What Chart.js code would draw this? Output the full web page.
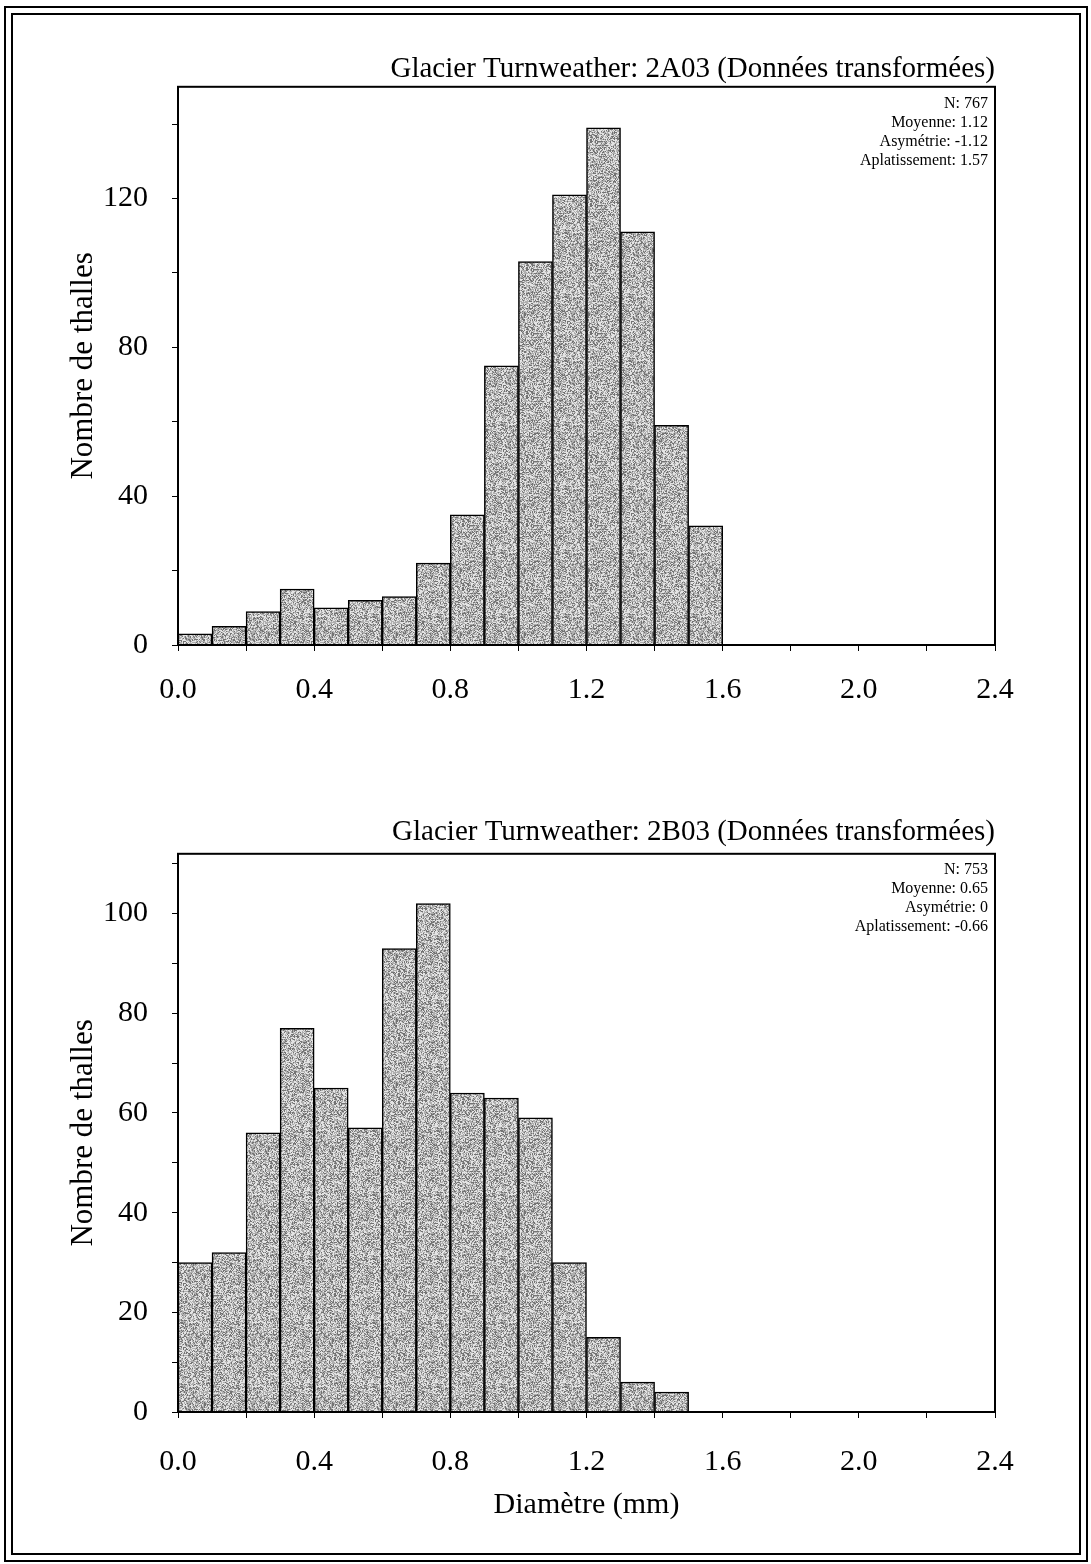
<!DOCTYPE html>
<html>
<head>
<meta charset="utf-8">
<script src="https://cdn.jsdelivr.net/npm/chart.js@4"></script>
<style>
  body { margin:0; background:#fff; width:1091px; height:1564px; position:relative; overflow:hidden; }
  .frame { position:absolute; border:2px solid #000; box-sizing:border-box; }
  .box { position:absolute; left:0; width:1091px; }
</style>
</head>
<body>
<div class="frame" style="left:4px;top:6px;width:1084px;height:1556px"></div>
<div class="frame" style="left:11px;top:13px;width:1070px;height:1542px"></div>
<div class="box" style="top:0;height:760px"><canvas id="chartA"></canvas></div>
<div class="box" style="top:770px;height:794px"><canvas id="chartB"></canvas></div>
<script>
// bin centres (0.1 mm wide bins) and counts
const binsA = [0.05,0.15,0.25,0.35,0.45,0.55,0.65,0.75,0.85,0.95,1.05,1.15,1.25,1.35,1.45,1.55];
const countsA = [3,5,9,15,10,12,13,22,35,75,103,121,139,111,59,32];
const statsA = ['N: 767','Moyenne: 1.12','Asymétrie: -1.12','Aplatissement: 1.57'];
const yLabelsA = [0,40,80,120];

const binsB = [0.05,0.15,0.25,0.35,0.45,0.55,0.65,0.75,0.85,0.95,1.05,1.15,1.25,1.35,1.45];
const countsB = [30,32,56,77,65,57,93,102,64,63,59,30,15,6,4];
const statsB = ['N: 753','Moyenne: 0.65','Asymétrie: 0','Aplatissement: -0.66'];
const yLabelsB = [0,20,40,60,80,100];

const xLabels = ['0.0','0.4','0.8','1.2','1.6','2.0','2.4'];

Chart.defaults.font.family = "'Liberation Serif', 'Times New Roman', serif";
Chart.defaults.color = '#000';

// grey screentone fill, fixed hash dither so it looks like the printed stipple
function stipple() {
  const c = document.createElement('canvas');
  c.width = c.height = 64;
  const g = c.getContext('2d');
  const img = g.createImageData(64, 64);
  for (let y = 0; y < 64; y++) {
    for (let x = 0; x < 64; x++) {
      let h = (x * 374761393 + y * 668265263) | 0;
      h = Math.imul(h ^ (h >>> 13), 1274126177);
      h = ((h ^ (h >>> 16)) >>> 0) % 100;
      const v = h < 25 ? 115 : h < 65 ? 175 : 228;
      const k = (y * 64 + x) * 4;
      img.data[k] = img.data[k + 1] = img.data[k + 2] = v;
      img.data[k + 3] = 255;
    }
  }
  g.putImageData(img, 0, 0);
  return g.createPattern(c, 'repeat');
}
const fill = stipple();

const statsPlugin = {
  id: 'stats',
  afterDraw(chart, args, o) {
    const {ctx, chartArea} = chart;
    ctx.save();
    ctx.strokeStyle = '#000';
    ctx.lineWidth = 2;
    ctx.strokeRect(chartArea.left, chartArea.top, chartArea.width, chartArea.height);
    ctx.font = "16px 'Liberation Serif', serif";
    ctx.fillStyle = '#000';
    ctx.textAlign = 'right';
    ctx.textBaseline = 'middle';
    o.lines.forEach((t, i) => ctx.fillText(t, chartArea.right - 7, chartArea.top + o.top + i * 19));
    ctx.restore();
  }
};

function makeChart(id, bins, counts, o) {
  return new Chart(document.getElementById(id), {
    type: 'bar',
    data: {
      datasets: [{
        data: bins.map((b, i) => ({x: b, y: counts[i]})),
        backgroundColor: fill,
        borderColor: '#000',
        borderWidth: 1.5,
        barPercentage: 1,
        categoryPercentage: 1
      }]
    },
    plugins: [statsPlugin],
    options: {
      responsive: true,
      maintainAspectRatio: false,
      animation: false,
      layout: {padding: {left: 60, right: 96, top: o.padTop, bottom: o.padBottom}},
      plugins: {
        legend: {display: false},
        tooltip: {enabled: false},
        title: {
          display: true, text: o.title, align: 'end',
          font: {size: 29, weight: 'normal'}, padding: {top: 0, bottom: o.titleGap}
        },
        stats: {lines: o.stats, top: o.statsTop}
      },
      scales: {
        x: {
          type: 'linear', min: 0, max: 2.4, offset: false,
          afterFit: s => { s.height = o.xHeight; },
          border: {color: '#000', width: 2},
          grid: {drawOnChartArea: false, color: '#000', tickLength: 6, offset: false},
          ticks: {
            stepSize: 0.2, autoSkip: false, maxRotation: 0, padding: o.xPad,
            font: {size: 30},
            callback: v => { const t = v.toFixed(1); return xLabels.includes(t) ? t : ''; }
          },
          title: {display: !!o.xTitle, text: o.xTitle, font: {size: 30}, padding: 0}
        },
        y: {
          min: 0, max: o.yMax,
          afterFit: s => { s.width = 118; },
          border: {color: '#000', width: 2},
          grid: {drawOnChartArea: false, color: '#000', tickLength: 6},
          ticks: {
            stepSize: o.yStep, includeBounds: false, padding: 24,
            font: {size: 30},
            callback: v => o.yLabels.includes(v) ? String(v) : ''
          },
          title: {display: true, text: 'Nombre de thalles', font: {size: 31}, padding: {top: 5, bottom: 0}}
        }
      }
    }
  });
}

makeChart('chartA', binsA, countsA, {
  title: 'Glacier Turnweather: 2A03 (Données transformées)',
  stats: statsA, statsTop: 17, yLabels: yLabelsA, yMax: 150, yStep: 20,
  padTop: 52, padBottom: 45, titleGap: 0, xHeight: 70, xTitle: '', xPad: 21
});
makeChart('chartB', binsB, countsB, {
  title: 'Glacier Turnweather: 2B03 (Données transformées)',
  stats: statsB, statsTop: 16, yLabels: yLabelsB, yMax: 112, yStep: 10,
  padTop: 45, padBottom: 41, titleGap: 4, xHeight: 111, xTitle: 'Diamètre (mm)', xPad: 26
});
</script>
</body>
</html>
